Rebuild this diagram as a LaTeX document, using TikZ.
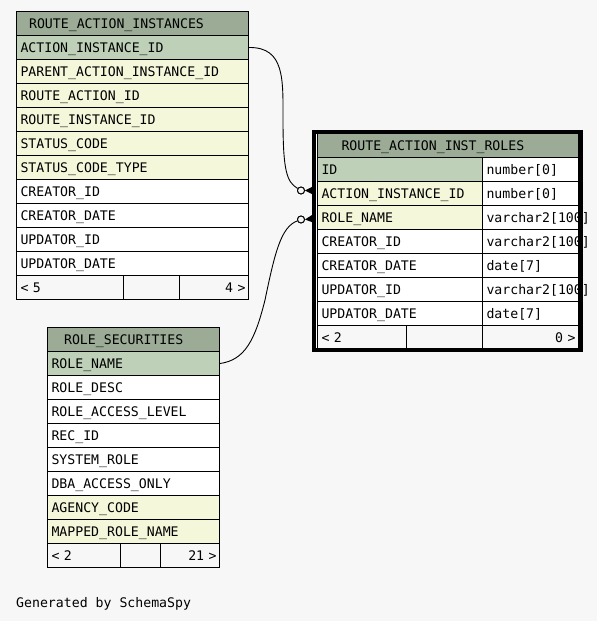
\documentclass[tikz,border=0pt]{standalone}
\usepackage{fontspec}
\setmonofont{DejaVu Sans Mono}
\definecolor{bgc}{HTML}{F7F7F7}
\definecolor{hdr}{HTML}{9BAB96}
\definecolor{pkc}{HTML}{BED1B8}
\definecolor{idx}{HTML}{F4F7DA}
\tikzset{
  cell/.style={draw=black, line width=1pt, rectangle, anchor=north west,
    minimum height=24pt, inner xsep=4pt, inner ysep=0pt,
    text height=9.6pt, text depth=0pt,
    font=\fontsize{13.2}{14}\selectfont\ttfamily, align=left},
  rcell/.style={cell, align=right, inner xsep=3pt},
  edge/.style={draw=black, line width=0.9pt},
  opt/.style={circle, draw=black, line width=0.9pt, fill=bgc, inner sep=0pt, minimum size=7pt},
  framebox/.style={rectangle, fill=white, anchor=north west, inner sep=0pt, outer sep=0pt}
}
\begin{document}
\begin{tikzpicture}[x=1pt,y=-1pt]
\fill[bgc] (0,0) rectangle (597,621);
\useasboundingbox (0,0) rectangle (597,621);

% ---------- connector ends ----------
\node[opt] (o1) at (301,190.5) {};
\node[opt] (o2) at (301,219.5) {};
\coordinate (k1) at (312.5,190.5);
\coordinate (k2) at (312.5,218.5);

% ---------- ROUTE_ACTION_INSTANCES ----------
\node[cell, fill=hdr, text width=224pt] (h1) at (16,11) {\mbox{\hspace*{8.6pt}ROUTE\_ACTION\_INSTANCES}};
\foreach \t/\c [count=\i] in {ACTION\_INSTANCE\_ID/pkc, PARENT\_ACTION\_INSTANCE\_ID/idx,
  ROUTE\_ACTION\_ID/idx, ROUTE\_INSTANCE\_ID/idx, STATUS\_CODE/idx, STATUS\_CODE\_TYPE/idx,
  CREATOR\_ID/white, CREATOR\_DATE/white, UPDATOR\_ID/white, UPDATOR\_DATE/white}
  \node[cell, fill=\c, text width=224pt] (a\i) at (16,{11+24*\i}) {\mbox{\t}};
\node[cell, fill=bgc, text width=99pt] (af1) at (16,275) {\mbox{<\ 5}};
\node[cell, fill=bgc, text width=48pt] (af2) at (123,275) {};
\node[rcell, fill=bgc, text width=63pt] (af3) at (179,275) {\mbox{4\ >}};

% ---------- ROLE_SECURITIES ----------
\node[cell, fill=hdr, text width=164pt] (h2) at (47,327) {\mbox{\hspace*{12.6pt}ROLE\_SECURITIES}};
\foreach \t/\c [count=\i] in {ROLE\_NAME/pkc, ROLE\_DESC/white, ROLE\_ACCESS\_LEVEL/white,
  REC\_ID/white, SYSTEM\_ROLE/white, DBA\_ACCESS\_ONLY/white, AGENCY\_CODE/idx, MAPPED\_ROLE\_NAME/idx}
  \node[cell, fill=\c, text width=164pt] (s\i) at (47,{327+24*\i}) {\mbox{\t}};
\node[cell, fill=bgc, text width=65pt] (sf1) at (47,543) {\mbox{<\ 2}};
\node[cell, fill=bgc, text width=32pt] (sf2) at (120,543) {};
\node[rcell, fill=bgc, text width=53pt] (sf3) at (160,543) {\mbox{21\ >}};

% ---------- ROUTE_ACTION_INST_ROLES ----------
\node[framebox, minimum width=266.5pt, minimum height=218pt] (frame) at (314,131.5) {};
\node[cell, fill=hdr, text width=253pt] (h3) at (317,133) {\mbox{\hspace*{20pt}ROUTE\_ACTION\_INST\_ROLES}};
\foreach \t/\c/\y [count=\i] in {ID/pkc/number[0], ACTION\_INSTANCE\_ID/idx/number[0],
  ROLE\_NAME/idx/varchar2[100], CREATOR\_ID/white/varchar2[100], CREATOR\_DATE/white/date[7],
  UPDATOR\_ID/white/varchar2[100], UPDATOR\_DATE/white/date[7]}
  {
  \node[cell, fill=\c, text width=157pt] (r\i) at (317,{133+24*\i}) {\mbox{\t}};
  \node[cell, fill=white, text width=88pt] (rt\i) at (482,{133+24*\i}) {\mbox{\y}};
  }
\node[cell, fill=bgc, text width=80.7pt] (rf1) at (317,325) {\mbox{<\ 2}};
\node[cell, fill=bgc, text width=68.3pt] (rf2) at (405.7,325) {};
\node[rcell, fill=bgc, text width=90pt] (rf3) at (482,325) {\mbox{0\ >}};
\draw[line width=4pt] (frame.north west) rectangle (frame.south east);

% ---------- connectors ----------
\draw[edge] (a1.east) .. controls (285,47) and (283,80) .. (283,120)
  .. controls (283,172) and (287,182) .. (o1);
\draw[edge] (s1.east) .. controls (245,360) and (255,340) .. (265,300)
  .. controls (275,252) and (281,227) .. (o2);
\node[opt] at (o1) {};
\node[opt] at (o2) {};
\fill[black] (o1.east) -- ([yshift=-3.8pt]k1) -- ([yshift=3.8pt]k1) -- cycle;
\fill[black] (o2.east) -- ([yshift=-3.8pt]k2) -- ([yshift=3.8pt]k2) -- cycle;

\node[anchor=base west, inner sep=0pt, font=\fontsize{13.2}{14}\selectfont\ttfamily] (gen) at (16,607.3) {Generated by SchemaSpy};
\end{tikzpicture}
\end{document}
